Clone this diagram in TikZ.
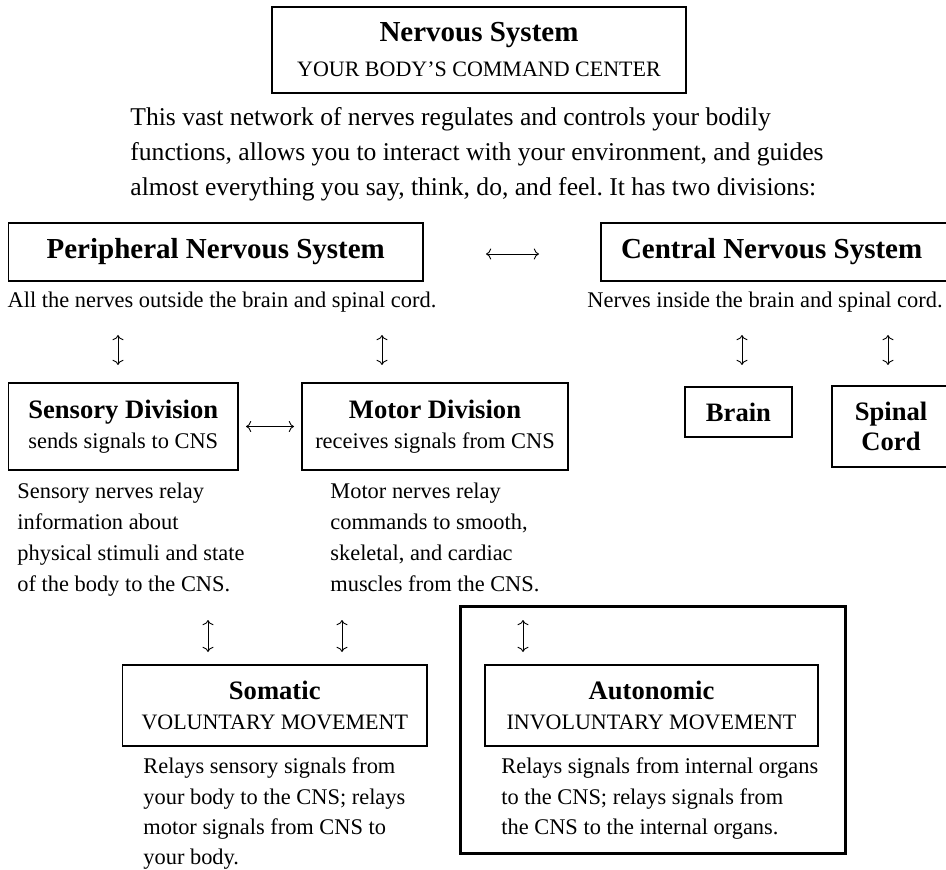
\documentclass[tikz,border=0pt]{standalone}
\usepackage{fontspec}
\setmainfont{Liberation Serif}
\usetikzlibrary{arrows.meta}
\newcommand{\mysc}[1]{{\fontsize{11}{16}\selectfont #1}}
\frenchspacing
\begin{document}
\begin{tikzpicture}[x=0.5pt,y=-0.5pt,
  >={To[length=2.6pt,width=5.5pt]},
  box/.style={draw, line width=0.6pt, inner sep=0pt, outer sep=0pt, align=center},
  conn/.style={<->, line width=0.45pt},
  headfont/.style={font=\fontsize{14.5}{17.5}\selectfont\bfseries},
  subfont/.style={font=\fontsize{13.3}{15}\selectfont},
  bodytext/.style={anchor=north west, align=left, inner sep=0pt, font=\fontsize{11.2}{15.5}\selectfont},
  linetext/.style={anchor=base west, inner sep=0pt, font=\fontsize{11.2}{15.5}\selectfont},
]
\useasboundingbox (0,0) rectangle (946,870);
\clip (0,0) rectangle (946,870);

% title
\node[box, minimum width=207pt, minimum height=43pt, font=\fontsize{14.5}{17.5}\selectfont] (ns) at (479,50)
  {\textbf{Nervous System}\\\mysc{YOUR BODY’S COMMAND CENTER}};

\node[anchor=north west, align=left, inner sep=0pt, font=\fontsize{12.8}{17.5}\selectfont] (intro) at (130,107.5)
  {This vast network of nerves regulates and controls your bodily\\
   functions, allows you to interact with your environment, and guides\\
   almost everything you say, think, do, and feel. It has two divisions:};

% level 1
\node[box, headfont, minimum width=207.25pt, minimum height=29pt] (pns) at (215.75,252) {Peripheral Nervous System};
\node[box, headfont, anchor=west, minimum width=190pt, minimum height=29pt] (cns) at (601,252)
  {\makebox[170pt][l]{Central Nervous System}};

\node[linetext] (pnsdesc) at (7.3,308) {All the nerves outside the brain and spinal cord.};
\node[linetext] (cnsdesc) at (587,308) {Nerves inside the brain and spinal cord.};

% level 2
\node[box, subfont, minimum width=114.75pt, minimum height=43.5pt] (sens) at (123.25,426.5)
  {\textbf{Sensory Division}\\{\fontsize{11.2}{15}\selectfont sends signals to CNS}};
\node[box, subfont, minimum width=133pt, minimum height=43.5pt] (motor) at (435,426.5)
  {\textbf{Motor Division}\\{\fontsize{11.2}{15}\selectfont receives signals from CNS}};
\node[box, subfont, minimum width=53.5pt, minimum height=25pt] (brain) at (738.5,412) {\textbf{Brain}};
\node[box, subfont, minimum width=59pt, minimum height=40.5pt] (spinal) at (891,426.5) {\textbf{Spinal}\\\textbf{Cord}};

\node[bodytext] (sensdesc) at (17,482.7)
  {Sensory nerves relay\\information about\\physical stimuli and state\\of the body to the CNS.};
\node[bodytext] (motordesc) at (330,482.7)
  {Motor nerves relay\\commands to smooth,\\skeletal, and cardiac\\muscles from the CNS.};

% level 3
\node[draw, line width=1.5pt, inner sep=0pt, minimum width=192.5pt, minimum height=123.5pt] (autogrp) at (652.5,729.5) {};
\node[box, subfont, minimum width=152.25pt, minimum height=40.5pt] (somatic) at (274.75,705.5)
  {\textbf{Somatic}\\\mysc{VOLUNTARY MOVEMENT}};
\node[box, subfont, minimum width=166.5pt, minimum height=40.5pt] (auto) at (651.5,705.5)
  {\textbf{Autonomic}\\\mysc{INVOLUNTARY MOVEMENT}};

\node[bodytext, font=\fontsize{11.2}{15.2}\selectfont] (somdesc) at (143,757.5)
  {Relays sensory signals from\\your body to the CNS; relays\\motor signals from CNS to\\your body.};
\node[bodytext, font=\fontsize{11.2}{15.2}\selectfont] (autodesc) at (501,757.5)
  {Relays signals from internal organs\\to the CNS; relays signals from\\the CNS to the internal organs.};

% connectors
\draw[conn, shorten <=31.5pt, shorten >=31pt] ([yshift=-1pt]pns.east) -- ([yshift=-1pt]cns.west);
\draw[conn, shorten <=4pt, shorten >=4pt] (sens.east) -- (motor.west);

\coordinate (v1t) at (118,335); \coordinate (v1b) at (118,365);
\coordinate (v2t) at (382,335); \coordinate (v2b) at (382,365);
\coordinate (v3t) at (742,335); \coordinate (v3b) at (742,365);
\coordinate (v4t) at (888,335); \coordinate (v4b) at (888,365);
\coordinate (v5t) at (208,620); \coordinate (v5b) at (208,652);
\coordinate (v6t) at (342,620); \coordinate (v6b) at (342,652);
\coordinate (v7t) at (523,620); \coordinate (v7b) at (523,652);
\foreach \i in {1,...,7} {\draw[conn] (v\i t) -- (v\i b);}
\end{tikzpicture}
\end{document}
